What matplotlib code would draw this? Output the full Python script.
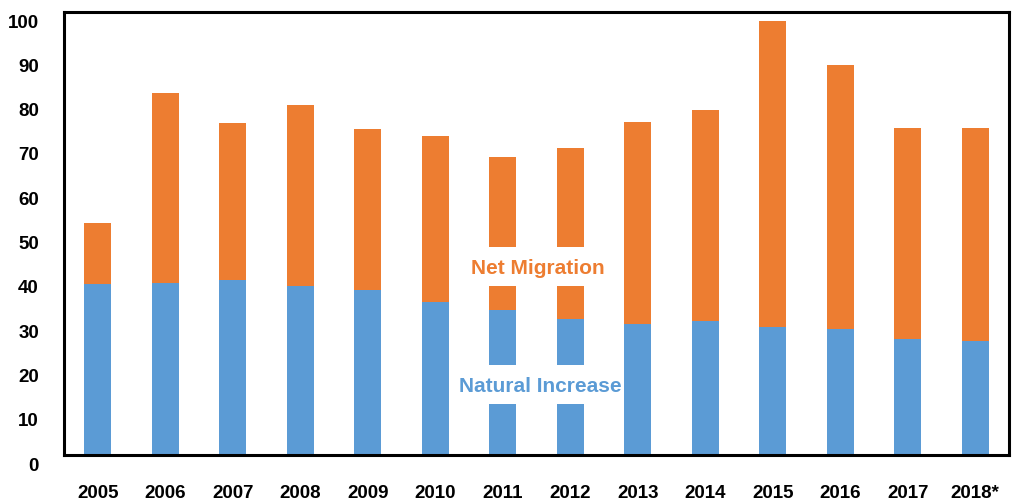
import matplotlib.pyplot as plt
from matplotlib.patches import Rectangle
from matplotlib.transforms import ScaledTranslation

years = ['2005', '2006', '2007', '2008', '2009', '2010', '2011',
         '2012', '2013', '2014', '2015', '2016', '2017', '2018*']
natural = [38.5, 38.9, 39.5, 38.1, 37.2, 34.5, 32.7,
           30.7, 29.6, 30.3, 28.9, 28.5, 26.1, 25.8]
total = [52.4, 81.7, 74.9, 79.0, 73.6, 72.0, 67.3,
         69.3, 75.2, 77.9, 98.0, 88.0, 73.8, 73.8]
migration = [t - n for t, n in zip(total, natural)]

blue = '#5B9BD5'
orange = '#ED7D31'

plt.rcParams['font.family'] = 'Liberation Sans'
plt.rcParams['font.weight'] = 'bold'

fig = plt.figure(figsize=(10.14, 5.02), dpi=100)
ax = fig.add_axes([0.0631, 0.0916, 0.9319, 0.8824])

x = range(len(years))
ax.bar(x, natural, width=0.4, color=blue, zorder=2)
ax.bar(x, migration, width=0.4, bottom=natural, color=orange, zorder=2)

ax.set_xlim(-0.5, len(years) - 0.5)
ax.set_ylim(0, 100)
ax.set_yticks(range(0, 101, 10))
ax.set_xticks(list(x))
ax.set_xticklabels(years)
ax.tick_params(axis='both', length=0, labelsize=13.5)
ax.tick_params(axis='x', pad=21)
ax.tick_params(axis='y', pad=18)

# y labels sit a little below their ticks in the original
shift = ScaledTranslation(0, -8 / 100, fig.dpi_scale_trans)
for lab in ax.get_yticklabels():
    lab.set_transform(lab.get_transform() + shift)

for s in ax.spines.values():
    s.set_linewidth(2.2)
    s.set_color('black')

# white label boxes cut through the 2011/2012 bars
ax.add_patch(Rectangle((5.5, 38.2), 2.0, 8.7, fc='white', ec='none', zorder=3))
ax.add_patch(Rectangle((5.5, 11.5), 2.0, 8.8, fc='white', ec='none', zorder=3))

ax.text(6.52, 42.4, 'Net Migration', color=orange, fontsize=15,
        ha='center', va='center', zorder=5)
ax.text(6.55, 15.8, 'Natural Increase', color=blue, fontsize=15,
        ha='center', va='center', zorder=5)

fig.savefig('out.png', dpi=100)
